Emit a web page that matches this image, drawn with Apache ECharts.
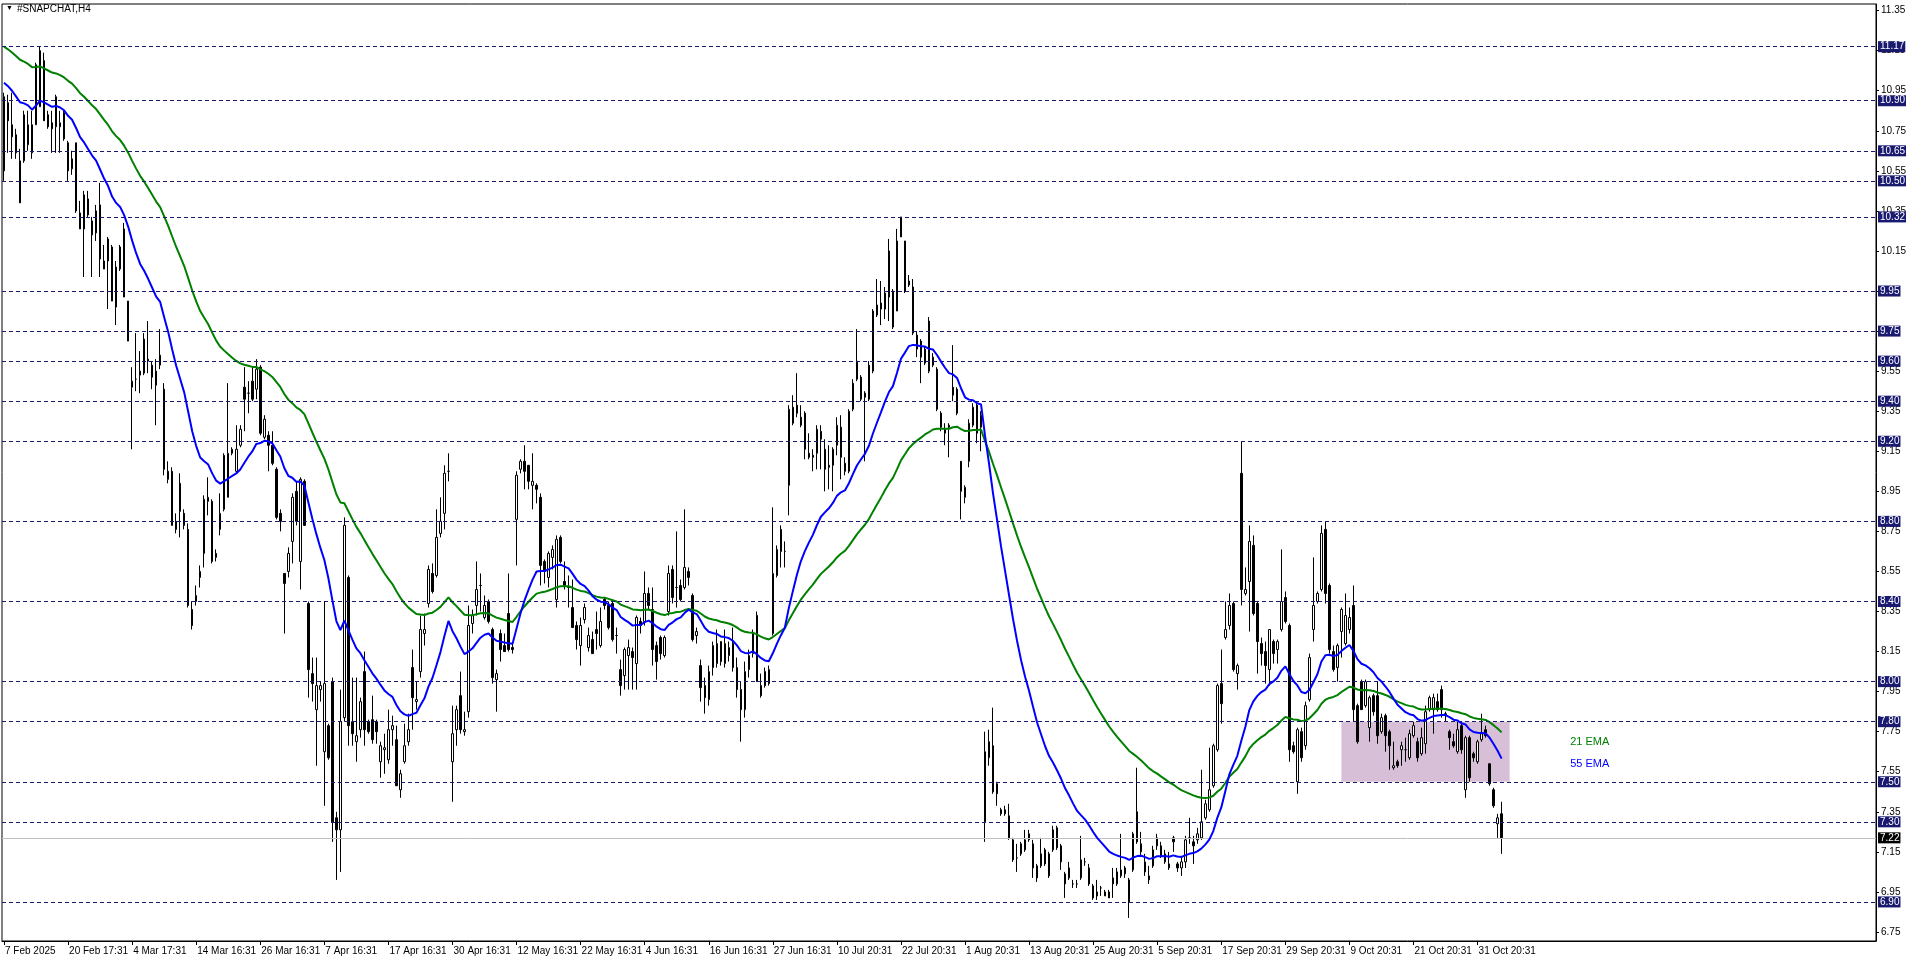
<!DOCTYPE html>
<html>
<head>
<meta charset="utf-8">
<script src="https://cdn.jsdelivr.net/npm/echarts@6/dist/echarts.min.js"></script>
<style>
html,body{margin:0;padding:0;background:#fff;}
#chart{width:1916px;height:963px;}
</style>
</head>
<body>
<div id="chart"></div>
<script>
// ---- data (H4 bars, 7 Feb 2025 .. 3 Nov 2025) ----
const opens = [
10.92,10.89,10.78,10.73,10.39,10.60,10.68,10.78,10.78,10.87,
11.10,10.83,10.79,10.77,10.77,10.84,10.69,10.56,10.69,10.34,
10.26,10.41,10.23,10.24,10.38,10.10,10.21,10.17,9.87,10.06,
10.26,9.90,9.47,9.51,9.53,9.54,9.60,9.58,9.55,9.58,
9.46,9.05,9.05,8.80,8.99,8.84,8.76,8.36,8.40,8.52,
8.64,8.90,8.90,8.62,8.76,8.86,8.92,9.14,9.05,9.18,
9.47,9.44,9.50,9.46,9.57,9.22,9.23,9.18,9.06,8.84,
8.54,8.55,8.70,8.95,8.60,9.00,8.39,8.04,7.86,7.96,
7.65,7.78,8.00,7.32,7.26,7.82,8.52,7.80,7.70,7.76,
8.05,7.80,7.81,7.80,7.60,7.66,7.61,7.76,7.71,7.46,
7.60,7.70,8.07,7.90,8.05,8.24,8.39,8.54,8.53,8.74,
8.84,9.05,7.60,7.76,7.93,7.75,7.85,8.29,8.38,8.48,
8.32,8.40,8.26,8.01,8.24,8.18,8.34,8.17,8.81,9.06,
9.10,9.08,8.98,8.98,8.92,8.60,8.52,8.62,8.41,8.72,
8.50,8.47,8.37,8.28,8.18,8.31,8.17,8.21,8.26,8.18,
8.41,8.38,8.39,8.23,8.06,8.03,8.13,8.15,8.09,8.30,
8.30,8.44,8.36,8.18,8.22,8.13,8.35,8.56,8.47,8.48,
8.47,8.55,8.43,8.23,8.08,7.98,7.91,8.07,8.09,8.20,
8.09,8.13,8.19,8.07,7.96,7.86,8.06,8.14,8.33,7.98,
8.05,7.99,8.24,8.53,8.76,8.65,8.98,9.37,9.38,9.32,
9.34,9.14,9.13,9.14,9.21,9.16,9.08,9.08,9.18,9.27,
9.09,9.05,9.36,9.60,9.52,9.44,9.41,9.55,9.88,9.89,
9.86,10.15,9.95,9.85,10.22,10.20,9.98,9.97,9.73,9.70,
9.59,9.80,9.58,9.56,9.34,9.24,9.28,9.43,9.46,9.10,
8.92,9.10,9.28,9.38,9.27,7.30,7.62,7.68,7.44,7.36,
7.36,7.33,7.21,7.12,7.19,7.16,7.21,7.19,7.08,7.08,
7.16,7.03,7.16,7.27,7.18,7.04,7.02,6.99,6.99,7.02,
7.10,7.07,6.98,6.95,6.97,6.93,6.95,6.99,6.99,7.03,
7.04,6.90,7.06,7.35,7.19,7.10,7.01,7.08,7.18,7.18,
7.10,7.07,7.22,7.09,7.07,7.10,7.22,7.20,7.21,7.22,
7.32,7.36,7.48,7.66,7.99,8.22,8.28,8.39,8.04,9.04,
8.44,8.50,8.68,8.39,8.19,8.15,8.06,8.20,8.16,8.26,
8.42,8.28,7.68,7.50,7.75,7.68,7.91,8.26,8.40,8.46,
8.76,8.48,8.15,8.07,8.25,8.19,8.26,8.38,7.88,8.00,
7.88,7.77,7.93,7.93,7.75,7.83,7.75,7.57,7.60,7.66,
7.66,7.62,7.73,7.70,7.64,7.69,7.86,7.86,7.90,7.96,
7.84,7.75,7.70,7.65,7.78,7.46,7.72,7.64,7.60,7.71,
7.76,7.59,7.46,7.29,7.34
];
const highs = [
10.94,10.93,10.94,10.76,10.66,10.85,10.85,10.85,11.09,11.17,
11.14,10.85,10.85,10.93,10.85,10.85,10.70,10.65,10.69,10.40,
10.45,10.45,10.32,10.38,10.49,10.18,10.22,10.18,10.10,10.18,
10.29,9.90,9.57,9.74,9.65,9.74,9.80,9.60,9.61,9.76,
9.49,9.10,9.07,8.84,9.04,8.86,8.79,8.40,8.48,8.58,
8.93,9.02,8.91,8.66,8.94,9.14,9.49,9.17,9.28,9.28,
9.57,9.50,9.57,9.61,9.58,9.33,9.25,9.25,9.07,8.86,
8.54,8.67,8.94,9.00,9.02,9.01,8.40,8.12,8.12,8.00,
8.40,7.79,8.02,7.35,7.96,8.82,8.53,8.02,8.02,7.92,
8.15,7.81,7.93,7.81,7.70,7.74,7.86,7.83,7.78,7.56,
7.79,7.84,8.16,8.00,8.33,8.34,8.58,8.59,8.86,8.92,
9.08,9.14,7.88,7.88,8.05,7.85,8.38,8.36,8.60,8.54,
8.43,8.41,8.27,8.06,8.26,8.24,8.54,8.19,9.05,9.11,
9.18,9.08,9.14,8.99,8.94,8.61,8.65,8.68,8.73,8.73,
8.60,8.53,8.51,8.30,8.32,8.39,8.27,8.25,8.35,8.37,
8.42,8.40,8.41,8.27,8.11,8.17,8.21,8.17,8.33,8.32,
8.55,8.47,8.47,8.20,8.23,8.23,8.58,8.58,8.75,8.51,
8.86,8.57,8.44,8.27,8.11,8.02,8.08,8.20,8.26,8.20,
8.26,8.20,8.27,8.12,8.00,8.10,8.16,8.26,8.35,8.04,
8.07,8.08,8.87,8.68,8.78,8.70,9.38,9.43,9.54,9.38,
9.35,9.24,9.16,9.28,9.28,9.21,9.18,9.17,9.32,9.33,
9.12,9.36,9.51,9.76,9.53,9.45,9.60,9.86,10.01,10.00,
9.97,10.21,9.96,10.26,10.32,10.20,10.03,10.01,9.75,9.71,
9.67,9.82,9.64,9.57,9.35,9.29,9.29,9.68,9.47,9.10,
8.98,9.31,9.39,9.39,9.35,7.75,7.76,7.87,7.50,7.37,
7.38,7.39,7.22,7.19,7.20,7.26,7.26,7.21,7.09,7.22,
7.17,7.15,7.28,7.28,7.19,7.05,7.10,7.01,7.01,7.23,
7.12,7.09,6.99,7.01,6.98,6.96,6.96,7.07,7.07,7.24,
7.08,7.02,7.25,7.57,7.25,7.14,7.08,7.18,7.24,7.20,
7.16,7.15,7.23,7.10,7.12,7.23,7.32,7.23,7.27,7.56,
7.41,7.67,7.69,7.99,8.16,8.40,8.44,8.40,8.09,9.20,
8.57,8.78,8.73,8.40,8.22,8.20,8.26,8.21,8.21,8.66,
8.45,8.29,7.70,7.77,7.77,7.90,8.14,8.62,8.45,8.78,
8.80,8.49,8.18,8.19,8.37,8.44,8.37,8.48,7.89,8.01,
8.01,7.93,7.94,8.00,7.84,7.84,7.76,7.70,7.61,7.70,
7.72,7.76,7.80,7.72,7.77,7.88,7.93,7.94,7.94,7.98,
7.85,7.76,7.74,7.80,7.79,7.73,7.73,7.65,7.71,7.84,
7.78,7.59,7.47,7.34,7.40
];
const lows = [
10.50,10.64,10.61,10.61,10.39,10.59,10.65,10.61,10.78,10.87,
10.80,10.76,10.64,10.64,10.64,10.70,10.50,10.53,10.34,10.26,
10.02,10.32,10.02,10.20,10.02,10.06,9.86,9.90,9.78,10.05,
9.92,9.70,9.16,9.45,9.44,9.53,9.54,9.46,9.28,9.56,
9.03,8.99,8.78,8.74,8.72,8.76,8.37,8.26,8.38,8.47,
8.57,8.83,8.59,8.60,8.73,8.85,8.92,9.13,9.04,9.17,
9.25,9.34,9.40,9.41,9.23,9.21,9.05,9.08,8.81,8.75,
8.24,8.52,8.59,8.78,8.46,8.78,7.92,7.90,7.58,7.90,
7.38,7.61,7.20,7.01,7.05,7.80,7.68,7.68,7.60,7.72,
7.68,7.74,7.69,7.69,7.52,7.54,7.59,7.68,7.48,7.42,
7.59,7.68,7.76,7.86,8.02,8.18,8.37,8.44,8.52,8.72,
8.76,9.00,7.40,7.68,7.74,7.73,7.82,8.24,8.33,8.35,
8.31,8.29,7.99,7.85,8.10,8.15,8.15,8.14,8.58,9.04,
8.96,8.96,8.86,8.89,8.48,8.49,8.47,8.56,8.37,8.59,
8.46,8.37,8.27,8.16,8.08,8.29,8.15,8.14,8.16,8.17,
8.36,8.26,8.20,8.14,7.93,7.96,7.96,7.96,7.96,8.24,
8.28,8.36,8.08,8.01,8.11,8.12,8.33,8.39,8.37,8.40,
8.46,8.48,8.20,8.19,7.90,7.84,7.88,8.03,8.07,8.08,
8.07,8.10,8.05,7.92,7.70,7.82,8.02,8.12,8.00,7.92,
7.97,7.98,8.23,8.52,8.57,8.57,8.83,9.28,9.32,9.27,
9.11,9.11,9.05,9.06,9.06,8.95,8.96,8.95,9.13,9.01,
9.03,9.04,9.35,9.50,9.40,9.10,9.40,9.54,9.82,9.78,
9.81,9.80,9.76,9.85,10.22,9.94,9.97,9.73,9.62,9.49,
9.58,9.54,9.57,9.35,9.25,9.18,9.12,9.40,9.33,8.81,
8.89,9.07,9.27,9.19,9.15,7.20,7.58,7.44,7.38,7.33,
7.33,7.21,7.10,7.05,7.13,7.15,7.20,7.02,7.00,7.07,
7.08,7.02,7.15,7.16,7.06,6.92,7.01,6.97,6.97,7.01,
7.08,6.98,6.91,6.91,6.93,6.93,6.92,6.92,6.98,7.02,
7.02,6.82,7.05,7.19,7.13,7.03,6.99,7.07,7.16,7.12,
7.09,7.06,7.15,7.05,7.03,7.07,7.19,7.09,7.19,7.21,
7.31,7.35,7.47,7.65,7.79,8.21,8.26,8.05,7.96,8.38,
8.43,8.25,8.33,8.04,8.08,7.99,7.98,8.09,8.09,8.25,
8.29,7.60,7.64,7.44,7.60,7.66,7.90,8.20,8.39,8.45,
8.39,8.14,8.05,8.00,8.12,8.18,8.24,7.80,7.69,7.86,
7.87,7.70,7.83,7.69,7.74,7.65,7.56,7.56,7.57,7.58,
7.60,7.61,7.72,7.60,7.63,7.64,7.85,7.74,7.85,7.82,
7.80,7.66,7.67,7.64,7.64,7.42,7.50,7.60,7.59,7.70,
7.72,7.48,7.37,7.22,7.14
];
const closes = [
10.55,10.80,10.72,10.64,10.60,10.83,10.78,10.64,11.08,11.15,
10.80,10.77,10.76,10.92,10.79,10.71,10.55,10.61,10.35,10.26,
10.43,10.33,10.30,10.35,10.11,10.06,10.10,9.90,10.07,10.17,
9.92,9.70,9.50,9.51,9.55,9.71,9.61,9.52,9.48,9.63,
9.06,9.01,8.78,8.76,8.85,8.78,8.38,8.28,8.43,8.55,
8.91,8.92,8.60,8.64,8.84,9.13,9.14,9.16,9.16,9.26,
9.41,9.44,9.41,9.56,9.24,9.31,9.18,9.09,8.82,8.80,
8.49,8.64,8.92,8.80,9.01,8.78,8.06,7.99,7.98,7.98,
7.99,7.62,7.30,7.26,7.80,8.78,7.78,7.74,7.73,7.90,
7.76,7.75,7.71,7.75,7.68,7.67,7.76,7.78,7.48,7.54,
7.68,7.76,7.92,7.91,8.26,8.26,8.56,8.45,8.72,8.80,
9.04,9.05,7.74,7.86,7.76,7.76,8.28,8.33,8.46,8.48,
8.38,8.30,8.02,8.04,8.16,8.15,8.16,8.16,9.03,9.10,
9.05,9.00,9.00,8.96,8.58,8.55,8.64,8.66,8.71,8.60,
8.48,8.47,8.27,8.21,8.28,8.37,8.23,8.14,8.24,8.30,
8.38,8.27,8.21,8.23,7.98,8.16,8.17,8.12,8.32,8.28,
8.44,8.38,8.16,8.10,8.14,8.22,8.54,8.42,8.47,8.41,
8.57,8.52,8.21,8.25,7.97,7.92,8.05,8.18,8.19,8.10,
8.19,8.17,8.07,7.96,7.86,8.05,8.13,8.24,8.00,7.93,
7.98,8.06,8.54,8.66,8.65,8.65,9.36,9.29,9.34,9.28,
9.16,9.12,9.12,9.26,9.25,9.06,9.07,9.16,9.28,9.12,
9.05,9.35,9.49,9.51,9.41,9.42,9.58,9.85,9.83,9.86,
9.94,9.92,9.77,10.20,10.32,9.95,10.00,9.74,9.66,9.62,
9.66,9.55,9.62,9.36,9.27,9.26,9.27,9.47,9.34,8.95,
8.97,9.29,9.37,9.24,9.33,7.65,7.70,7.45,7.49,7.34,
7.34,7.22,7.11,7.12,7.14,7.21,7.24,7.07,7.02,7.14,
7.09,7.14,7.26,7.17,7.10,6.99,7.07,6.99,6.99,7.11,
7.10,6.99,6.92,6.93,6.97,6.95,6.92,7.02,7.05,7.06,
7.07,7.01,7.24,7.20,7.15,7.05,7.03,7.16,7.22,7.13,
7.14,7.09,7.20,7.07,7.10,7.21,7.22,7.18,7.24,7.30,
7.39,7.46,7.68,7.98,7.89,8.26,8.38,8.06,8.08,8.46,
8.46,8.70,8.34,8.20,8.14,8.08,8.26,8.14,8.20,8.40,
8.30,7.66,7.65,7.76,7.62,7.88,8.12,8.38,8.44,8.74,
8.44,8.16,8.06,8.18,8.36,8.33,8.32,7.86,7.70,7.86,
8.00,7.92,7.85,7.73,7.82,7.73,7.68,7.58,7.58,7.68,
7.66,7.74,7.78,7.62,7.72,7.85,7.92,7.92,7.86,7.86,
7.83,7.72,7.68,7.76,7.66,7.72,7.52,7.62,7.70,7.74,
7.73,7.49,7.38,7.32,7.22
];
// x-axis tick labels, one every 16 bars
const tickLabels = ['7 Feb 2025','20 Feb 17:31','4 Mar 17:31','14 Mar 16:31','26 Mar 16:31','7 Apr 16:31',
 '17 Apr 16:31','30 Apr 16:31','12 May 16:31','22 May 16:31','4 Jun 16:31','16 Jun 16:31','27 Jun 16:31',
 '10 Jul 20:31','22 Jul 20:31','1 Aug 20:31','13 Aug 20:31','25 Aug 20:31','5 Sep 20:31','17 Sep 20:31',
 '29 Sep 20:31','9 Oct 20:31','21 Oct 20:31','31 Oct 20:31'];
const barsPerLabel = 16;
const totalSlots = 468;   // bar slots across the visible chart (incl. empty right side)
// price-axis tick labels
const yTicks = [6.75,6.95,7.15,7.35,7.55,7.75,7.95,8.15,8.35,8.55,8.75,8.95,9.15,9.35,9.55,9.75,9.95,10.15,10.35,10.55,10.75,10.95,11.15,11.35];
// horizontal levels
const levels = [11.17,10.90,10.65,10.50,10.32,9.95,9.75,9.60,9.40,9.20,8.80,8.40,8.00,7.80,7.50,7.30,6.90];
const lastPrice = 7.22;
// EMA start values read at the first bar
const emaFastStart = 10.99, emaSlowStart = 11.17;
// shaded zone
const zone = {fromBar: 334, toBar: 376, top: 7.80, bottom: 7.50};

// ---- build ----
function ema(src, period, start){
  const a = 2/(period+1); const out = []; let e = start;
  src.forEach((v,i)=>{ if(i>0) e = e + a*(v-e); out.push(+e.toFixed(4)); });
  return out;
}
const ema21 = ema(closes, 21, emaFastStart);
const ema55 = ema(closes, 55, emaSlowStart);
const categories = Array.from({length: totalSlots}, (_, i) => String(i));
const candles = opens.map((o,i)=>[o, closes[i], lows[i], highs[i]]);
const lastLabelIdx = (tickLabels.length-1)*barsPerLabel;
const showTick = (idx) => idx % barsPerLabel === 0 && idx <= lastLabelIdx;

const FONT = 'Liberation Sans';
const chart = echarts.init(document.getElementById('chart'), null, {renderer:'canvas'});
chart.setOption({
  animation: false,
  backgroundColor: '#ffffff',
  textStyle: {fontFamily: FONT},
  graphic: [
    {type:'text', left: 6, top: 5, style:{text:'▼', fontSize: 7, fill:'#000', fontFamily: FONT}},
    {type:'text', left: 17, top: 4, style:{text:'#SNAPCHAT,H4', fontSize: 10, fill:'#000', fontFamily: FONT}}
  ],
  grid: {left: 2, right: 40, top: 4, bottom: 22, show: true, borderColor: '#000', borderWidth: 1, backgroundColor:'#fff'},
  xAxis: {
    type: 'category', data: categories, boundaryGap: true,
    axisLine: {show: true, lineStyle: {color:'#000', width: 1}},
    axisTick: {show: true, alignWithLabel: true, interval: (idx)=>showTick(idx), length: 4, lineStyle:{color:'#000'}},
    axisLabel: {show: true, interval: (idx)=>showTick(idx), align: 'left', margin: 5, padding:[0,0,0,1],
      color:'#000', fontSize: 10, fontFamily: FONT,
      formatter: (v, idx) => showTick(idx) ? tickLabels[idx/barsPerLabel] : ''},
    splitLine: {show: false}
  },
  yAxis: {
    type: 'value', position: 'right', min: 6.705, max: 11.383, scale: true,
    axisLine: {show: true, lineStyle: {color:'#000'}},
    axisTick: {show: true, length: 3, customValues: yTicks, lineStyle:{color:'#000'}},
    axisLabel: {show: true, customValues: yTicks, margin: 5, color:'#000', fontSize: 10, fontFamily: FONT,
      formatter: (v)=> v.toFixed(2)},
    splitLine: {show: false}
  },
  series: [
    {
      type: 'line', name: 'zone', data: [], z: 1, silent: true,
      markArea: {silent: true, itemStyle: {color: '#d8bfd8', opacity: 1},
        data: [[{xAxis: zone.fromBar, yAxis: zone.top}, {xAxis: zone.toBar, yAxis: zone.bottom}]]}
    },
    {
      type: 'candlestick', name: '#SNAPCHAT', data: candles, z: 3, barWidth: 2,
      itemStyle: {color:'#ffffff', color0:'#000000', borderColor:'#000000', borderColor0:'#000000', borderWidth: 1},
      markLine: {
        silent: true, symbol: ['none','none'], animation: false,
        data: levels.map(v => ({yAxis: v, lineStyle:{color:'#191970', width: 1, type:[4,3]},
            label:{show:true, position:'end', distance: 2, formatter: v.toFixed(2), color:'#fff',
              backgroundColor:'#191970', padding:[1,1,0,2], fontSize: 10, lineHeight: 10, fontFamily: FONT}}))
          .concat([{yAxis: lastPrice, lineStyle:{color:'#c0c0c0', width:1, type:'solid'},
            label:{show:true, position:'end', distance: 2, formatter: lastPrice.toFixed(2), color:'#fff',
              backgroundColor:'#000', padding:[1,1,0,2], fontSize: 10, lineHeight: 10, fontFamily: FONT}}])
      }
    },
    {
      type: 'line', name: '55 EMA line', data: ema55, z: 4, showSymbol: false, symbol: 'none',
      lineStyle: {color:'#008000', width: 2}, itemStyle:{color:'#008000'},
      markPoint: {symbol:'circle', symbolSize: 0, silent: true,
        data: [{coord: [396, 7.70], label:{show:true, position:'inside', formatter:'21 EMA', color:'#008000', fontSize: 11, fontFamily: FONT}}]}
    },
    {
      type: 'line', name: '21 EMA line', data: ema21, z: 5, showSymbol: false, symbol: 'none',
      lineStyle: {color:'#0000ff', width: 2}, itemStyle:{color:'#0000ff'},
      markPoint: {symbol:'circle', symbolSize: 0, silent: true,
        data: [{coord: [396, 7.59], label:{show:true, position:'inside', formatter:'55 EMA', color:'#0000ff', fontSize: 11, fontFamily: FONT}}]}
    }
  ]
});
</script>
</body>
</html>
